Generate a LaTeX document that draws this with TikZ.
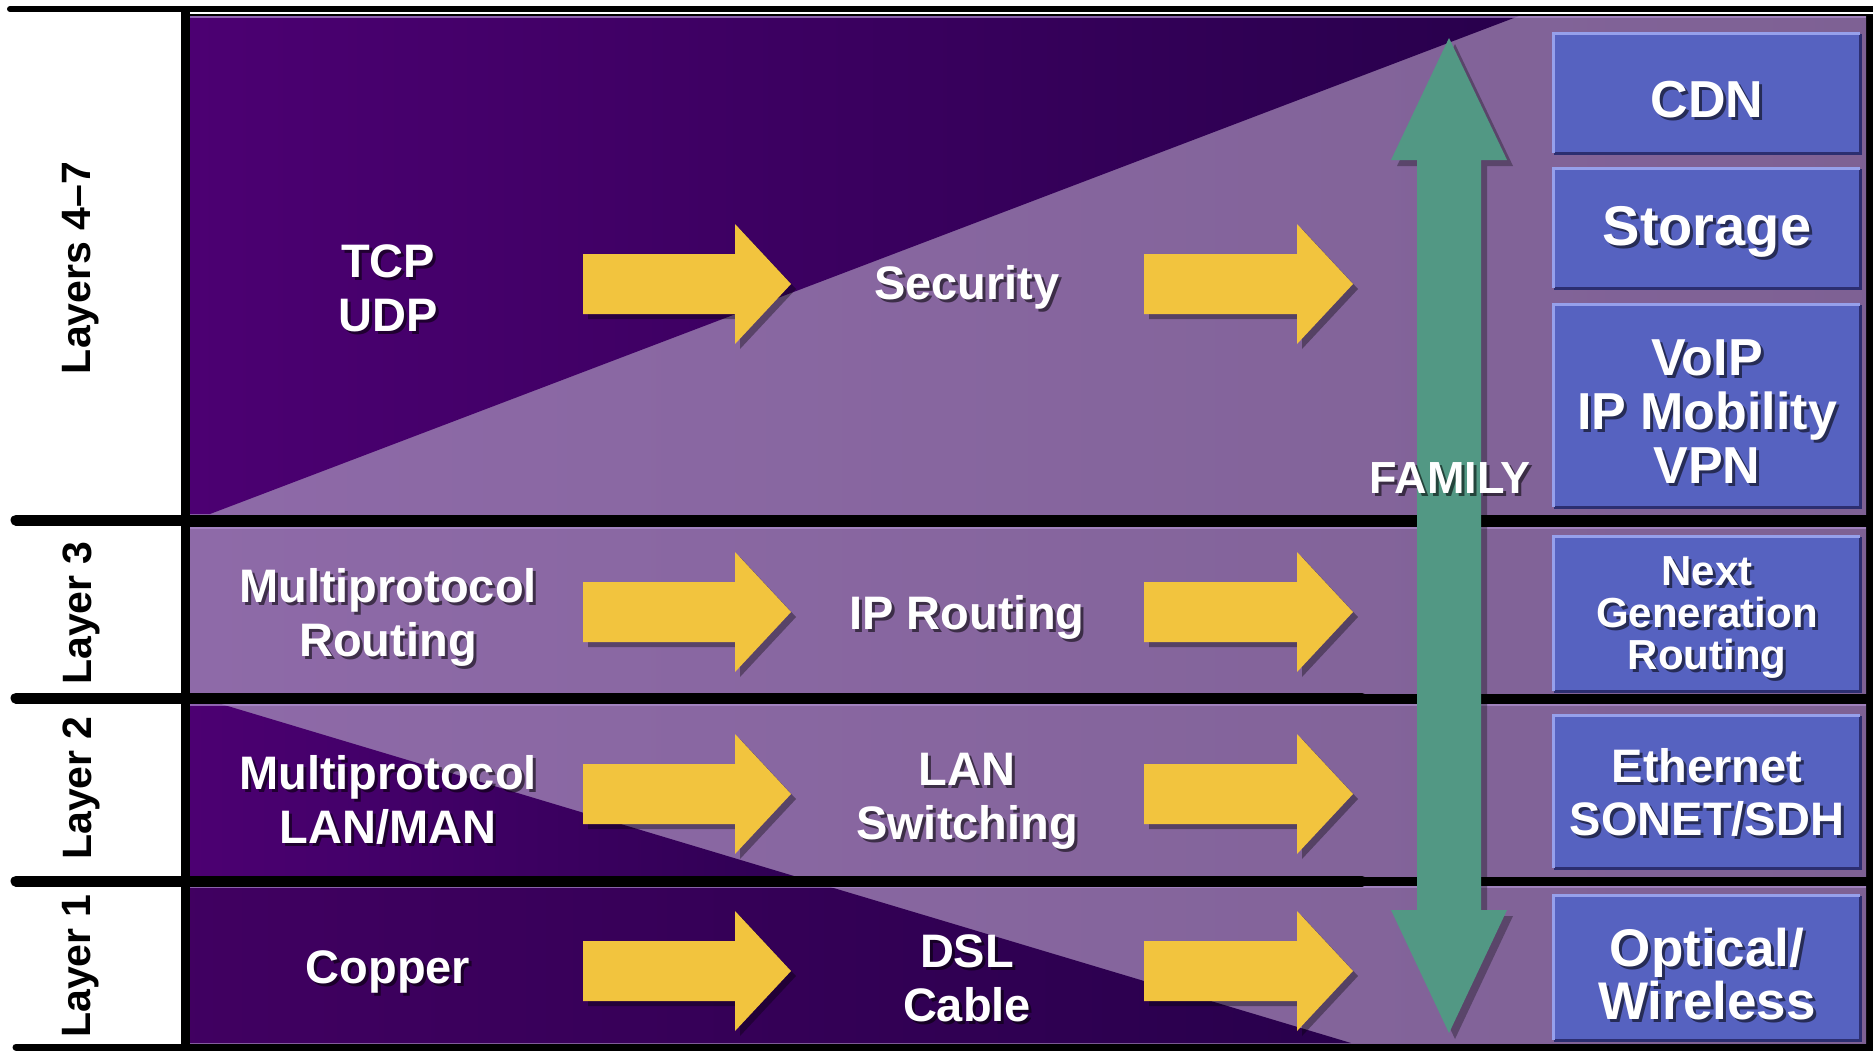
\documentclass[tikz,border=0pt]{standalone}
\usepackage{fontspec}
\setmainfont{Liberation Sans}
\usetikzlibrary{calc}

\definecolor{deepvio}{RGB}{76,0,114}
\definecolor{deepvioR}{RGB}{40,0,76}
\definecolor{lilac}{RGB}{126,97,148}
\definecolor{lilacL}{RGB}{142,106,168}
\definecolor{bandedge}{RGB}{172,142,204}
\definecolor{gold}{RGB}{242,196,62}
\definecolor{famgreen}{RGB}{82,152,132}
\definecolor{boxblue}{RGB}{86,98,192}
\definecolor{boxhi}{RGB}{150,160,235}
\definecolor{boxlo}{RGB}{44,46,112}

\tikzset{
  lbl/.style={text=white, inner sep=0pt, align=center, yshift=-4pt},
  lblshadow/.style={text=black, text opacity=0.55, inner sep=0pt, align=center, xshift=3pt, yshift=-7pt},
  layerlbl/.style={text=black, inner sep=0pt, rotate=90, font=\fontsize{41}{41}\selectfont\bfseries},
  bluebox/.style={fill=boxblue, draw=none, minimum width=306, inner sep=0pt},
  sepline/.style={line width=11pt, line cap=round},
  bandtop/.style={bandedge, line width=2pt, opacity=0.7},
}

% white label with a soft drop shadow: name, position, font, text
\newcommand{\shtext}[4]{%
  \node[lblshadow, font={#3}] at (#2) {#4};
  \node[lbl, font={#3}] (#1) at (#2) {#4};}

% bevelled blue box on the right: name, y centre, height
\newcommand{\servicebox}[3]{%
  \node[bluebox, minimum height=#3] (#1) at (1707,#2) {};
  \draw[boxlo, line width=3pt] (#1.south west) -- (#1.south east) -- (#1.north east);
  \draw[boxhi, line width=3pt] (#1.south west) -- (#1.north west) -- (#1.north east);}

% yellow block arrow: tail x, head base x, tip x, y centre
\newcommand{\goldarrow}[4]{%
  \fill[black, opacity=0.35, shift={(5,5)}] (#1,#4-30) -- (#2,#4-30) -- (#2,#4-60) -- (#3,#4) -- (#2,#4+60) -- (#2,#4+30) -- (#1,#4+30) -- cycle;
  \fill[gold] (#1,#4-30) -- (#2,#4-30) -- (#2,#4-60) -- (#3,#4) -- (#2,#4+60) -- (#2,#4+30) -- (#1,#4+30) -- cycle;}

\newcommand{\fmain}{\fontsize{47}{54}\selectfont\bfseries}
\newcommand{\fservice}{\fontsize{52}{54}\selectfont\bfseries}

\begin{document}
\begin{tikzpicture}[x=1pt, y=-1pt]
\useasboundingbox (0,0) rectangle (1873,1050);
\fill[white] (0,0) rectangle (1873,1050);

% backdrop behind the bands
\fill[black] (181,14) rectangle (1873,1050);

% band: layers 4-7
\shade[left color=lilacL, right color=lilac] (190,16) rectangle (1866,514);
\shade[left color=deepvio, right color=deepvioR] (190,16) -- (1519,16) -- (210,514) -- (190,514) -- cycle;
% band: layer 3
\shade[left color=lilacL, right color=lilac] (190,527) rectangle (1866,693);
% band: layer 2
\shade[left color=lilacL, right color=lilac] (190,704) rectangle (1866,876);
\shade[left color=deepvio, right color=deepvioR!80!deepvio] (190,704) -- (221,704) -- (794,876) -- (190,876) -- cycle;
% band: layer 1
\shade[left color=lilacL, right color=lilac] (190,886) rectangle (1866,1043);
\shade[left color=deepvio!85!black, right color=deepvioR] (190,886) -- (827,886) -- (1351,1043) -- (190,1043) -- cycle;

% light top edges of the bands
\draw[bandtop] (190,17) -- (1866,17);
\draw[bandtop] (190,528) -- (1866,528);
\draw[bandtop] (190,705) -- (1866,705);
\draw[bandtop] (190,887) -- (1866,887);

% ruling of the layer table
\draw[line width=6pt, line cap=round] (10,9) -- (1873,9);
\draw[sepline] (16,520) -- (1362,520);
\draw[sepline] (16,698) -- (1362,698);
\draw[sepline] (16,881) -- (1362,881);
\draw[line width=7pt, line cap=round] (16,1047) -- (1873,1047);
\draw[line width=9pt] (185,7) -- (185,1050);

% layer names
\node[layerlbl] (l47) at (81,268) {Layers 4–7};
\node[layerlbl] (l3) at (81,613) {Layer 3};
\node[layerlbl] (l2) at (81,788) {Layer 2};
\node[layerlbl] (l1) at (81,966) {Layer 1};

% yellow progression arrows
\goldarrow{583}{735}{791}{284}
\goldarrow{1144}{1297}{1353}{284}
\goldarrow{583}{735}{791}{612}
\goldarrow{1144}{1297}{1353}{612}
\goldarrow{583}{735}{791}{794}
\goldarrow{1144}{1297}{1353}{794}
\goldarrow{583}{735}{791}{971}
\goldarrow{1144}{1297}{1353}{971}

% green family double arrow
\fill[black, opacity=0.3, shift={(6,6)}] (1449,38) -- (1507,160) -- (1481,160) -- (1481,910) -- (1507,910) -- (1449,1033) -- (1391,910) -- (1417,910) -- (1417,160) -- (1391,160) -- cycle;
\fill[famgreen] (1449,38) -- (1507,160) -- (1481,160) -- (1481,910) -- (1507,910) -- (1449,1033) -- (1391,910) -- (1417,910) -- (1417,160) -- (1391,160) -- cycle;

% service boxes
\servicebox{cdn}{93.5}{119}
\servicebox{sto}{228.5}{119}
\servicebox{voip}{406}{202}
\servicebox{ngr}{614}{154}
\servicebox{eth}{792}{152}
\servicebox{opt}{968}{144}

% column texts
\shtext{tcp}{388,284}{\fmain}{TCP\\UDP}
\shtext{sec}{967,283}{\fmain}{Security}
\shtext{mpr}{388,613}{\fmain}{Multiprotocol\\Routing}
\shtext{ipr}{967,613}{\fmain}{IP Routing}
\shtext{mpl}{388,796}{\fmain}{Multiprotocol\\LAN/MAN}
\shtext{lsw}{967,797}{\fmain}{LAN\\Switching}
\shtext{cop}{388,968}{\fmain}{Copper}
\shtext{dsl}{967,974}{\fmain}{DSL\\Cable}

\shtext{fam}{1450,474}{\fontsize{45}{45}\selectfont\bfseries}{FAMILY}

% box texts
\shtext{tcdn}{1707,96}{\fservice}{CDN}
\shtext{tsto}{1707,228}{\fontsize{56}{56}\selectfont\bfseries}{Storage}
\shtext{tvoip}{1707,408}{\fservice}{VoIP\\IP Mobility\\VPN}
\shtext{tngr}{1707,613}{\fontsize{42}{42}\selectfont\bfseries}{Next\\Generation\\Routing}
\shtext{teth}{1707,788}{\fontsize{47}{53}\selectfont\bfseries}{Ethernet\\SONET/SDH}
\shtext{topt}{1707,970}{\fontsize{53}{53}\selectfont\bfseries}{Optical/\\Wireless}
\end{tikzpicture}
\end{document}
